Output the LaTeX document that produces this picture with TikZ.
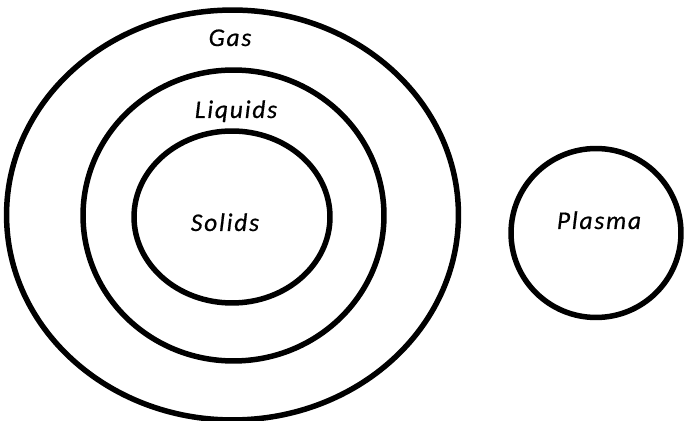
\documentclass[tikz,border=0pt]{standalone}
\usepackage{fontspec}
\setmainfont{Carlito}
\newfontfamily\statefont[LetterSpace=7, FakeBold=0.6]{Carlito Italic}
\usetikzlibrary{shapes.geometric}

\begin{document}
\begin{tikzpicture}[
  x=0.02cm, y=-0.02cm,
  ring/.style={ellipse, draw=black, line width=0.11cm, inner sep=0pt},
  statelabel/.style={anchor=base, inner sep=0pt, font=\fontsize{14.5}{16}\statefont}
]
\useasboundingbox (0,0) rectangle (685,421);
% nested states of matter
\node[ring, minimum width=9.04cm, minimum height=8.2cm] (gas) at (232.5,215) {};
\node[ring, minimum width=6.02cm, minimum height=5.82cm] (liquids) at (233.5,215.5) {};
\node[ring, minimum width=3.92cm, minimum height=3.44cm] (solids) at (232,217) {};
% separate state
\node[ring, minimum width=3.4cm, minimum height=3.38cm] (plasma) at (596,233) {};

\node[statelabel] (gaslbl) at (230,46) {Gas};
\node[statelabel] (liquidslbl) at (236,118) {Liquids};
\node[statelabel] (solidslbl) at (225,231) {Solids};
\node[statelabel] (plasmalbl) at (599,229) {Plasma};
\end{tikzpicture}
\end{document}
